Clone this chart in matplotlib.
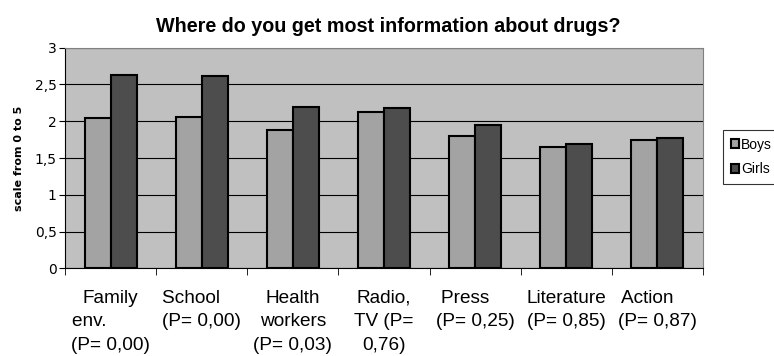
import numpy as np
import matplotlib
matplotlib.use('Agg')
import matplotlib.pyplot as plt

# Data
categories = ['Family\nenv.        \n(P= 0,00)', 'School    \n(P= 0,00)', 'Health\nworkers\n(P= 0,03)',
              'Radio,\nTV (P=\n0,76)', 'Press    \n(P= 0,25)', 'Literature\n(P= 0,85)', 'Action    \n(P= 0,87)']
boys = [2.05, 2.06, 1.88, 2.13, 1.80, 1.655, 1.75]
girls = [2.63, 2.62, 2.19, 2.175, 1.95, 1.69, 1.77]
y_ticks = [0, 0.5, 1, 1.5, 2, 2.5, 3]
y_tick_labels = ['0', '0,5', '1', '1,5', '2', '2,5', '3']

# Figure setup
fig = plt.figure(figsize=(7.74, 3.56), dpi=100)
ax = fig.add_axes([0.084, 0.2463, 0.8243, 0.6197])
ax.set_facecolor('#c0c0c0')

x = np.arange(len(categories))
width = 0.285

# Bars
ax.bar(x - width / 2, boys, width, color='#a3a3a3', edgecolor='black', linewidth=1.5, label='Boys', zorder=3)
ax.bar(x + width / 2, girls, width, color='#4d4d4d', edgecolor='black', linewidth=1.5, label='Girls', zorder=3)

# Axes limits and grid
ax.set_xlim(-0.5, len(categories) - 0.5)
ax.set_ylim(0, 3)
ax.set_yticks(y_ticks)
ax.set_yticklabels(y_tick_labels, fontsize=10, family='DejaVu Sans')
ax.yaxis.grid(True, color='black', linewidth=0.8, zorder=1)
ax.set_axisbelow(True)

# Category labels centred, ticks on category boundaries
ax.set_xticks(x)
ax.set_xticklabels(categories, fontsize=13.7, family='Liberation Sans', linespacing=1.5)
ax.tick_params(axis='x', which='major', length=0, pad=15.5)
ax.set_xticks(np.arange(-0.5, len(categories), 1), minor=True)
ax.tick_params(axis='x', which='minor', length=5, color='black')
ax.tick_params(axis='y', length=4, color='black', pad=2)

# Frame
for side in ['top', 'right']:
    ax.spines[side].set_color('#808080')
for side in ['left', 'bottom']:
    ax.spines[side].set_color('black')

# Titles
fig.text(0.502, 1 - 31.7 / 356, 'Where do you get most information about drugs?', ha='center', va='baseline',
         fontsize=14.2, fontweight='bold', family='Liberation Sans')
ax.set_ylabel('scale from 0 to 5', fontsize=8, fontweight='bold', family='DejaVu Sans', labelpad=8)

# Legend
leg = fig.legend(loc='upper left', bbox_to_anchor=(0.934, 1 - 130 / 356), bbox_transform=fig.transFigure,
                 prop={'family': 'Liberation Sans', 'size': 10}, frameon=True, fancybox=False,
                 handlelength=0.6, handleheight=0.6, handletextpad=0.15, borderpad=0.55,
                 labelspacing=0.75, borderaxespad=0)
leg.get_frame().set_edgecolor('black')
leg.get_frame().set_linewidth(0.8)

plt.savefig('out.png', dpi=100)
